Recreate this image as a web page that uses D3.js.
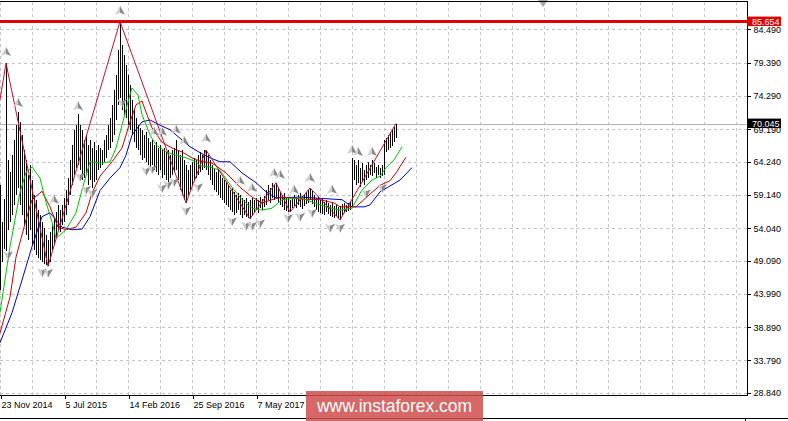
<html>
<head>
<meta charset="utf-8">
<script src="https://d3js.org/d3.v7.min.js"></script>
<style>
    body {
        margin: 0;
        background: #ffffff;
        font-family: "Liberation Sans", Arial, sans-serif;
    }
    .grid line {
        stroke: #c4c4c4;
        stroke-dasharray: 3,3;
        shape-rendering: crispEdges;
    }
    .axis text {
        font-size: 9px;
        fill: #000000;
        font-family: "Liberation Sans", Arial, sans-serif;
    }
    .axis line {
        stroke: #000000;
        shape-rendering: crispEdges;
    }
</style>
</head>
<body>
<svg id="chart" width="788" height="421"></svg>

<script>
    // weekly bars, first bar = week of 23 Nov 2014
    let barHigh = [
        60.6, 55.0, 58.5, 79.3, 64.5, 62.6, 65.2, 67.5, 69.8, 71.8,
        70.3, 68.3, 66.0, 64.5, 62.2, 63.7, 61.4, 59.1, 58.4, 56.8,
        56.1, 55.0, 54.1, 53.0, 52.2, 53.5, 54.5, 55.6, 56.5, 57.6,
        56.8, 57.6, 58.7, 59.9, 61.7, 64.5, 66.8, 69.1, 69.8, 71.5,
        69.8, 69.1, 67.5, 68.3, 66.8, 67.5, 66.3, 67.2, 66.0, 66.8,
        66.3, 66.0, 67.5, 68.3, 69.8, 70.9, 72.9, 75.2, 77.5, 81.3,
        85.65, 82.1, 80.5, 79.0, 77.5, 75.9, 73.7, 72.1, 70.9, 69.8,
        69.4, 69.1, 68.3, 68.8, 67.8, 67.2, 67.5, 66.8, 67.2, 66.3,
        66.8, 66.0, 66.3, 65.7, 66.0, 65.2, 66.0, 66.3, 67.5, 66.0,
        65.2, 66.0, 64.5, 63.7, 62.9, 63.7, 64.2, 64.8, 64.5, 65.2,
        65.7, 65.2, 66.0, 66.0, 65.2, 64.5, 63.7, 63.3, 62.6, 62.9,
        62.2, 61.7, 61.4, 61.1, 60.7, 59.9, 60.2, 59.6, 59.1, 59.4,
        59.1, 58.7, 58.4, 58.7, 58.0, 58.4, 58.7, 58.4, 58.7, 58.4,
        58.8, 58.5, 59.0, 59.9, 60.7, 60.2, 61.0, 60.7, 61.0, 60.2,
        59.6, 59.1, 59.4, 58.8, 58.7, 58.4, 58.7, 59.1, 58.8, 59.1,
        59.4, 58.9, 59.3, 59.6, 59.9, 60.2, 59.7, 59.1, 58.7, 58.8,
        58.4, 58.5, 58.0, 58.4, 57.9, 57.6, 57.9, 57.4, 57.6, 57.3,
        57.4, 57.7, 57.9, 57.6, 57.9, 58.0, 64.8, 64.5, 63.7, 64.5,
        63.3, 64.0, 62.9, 63.7, 64.2, 63.7, 64.5, 64.0, 63.4, 63.7,
        63.3, 63.7, 67.5, 67.8, 68.3, 68.8, 69.1, 69.5, 70.05]
    let barLow = [
        44.6, 48.9, 50.8, 50.5, 53.8, 55.0, 56.1, 57.6, 59.1, 60.2,
        57.6, 56.1, 54.5, 53.0, 52.2, 53.8, 51.5, 50.7, 49.9, 49.5,
        49.2, 48.9, 48.6, 48.4, 48.2, 48.9, 50.7, 51.5, 52.5, 53.8,
        53.5, 54.5, 55.0, 56.1, 57.6, 59.1, 60.7, 62.2, 63.3, 63.7,
        62.9, 61.4, 61.7, 62.2, 60.7, 61.4, 60.2, 61.1, 61.4, 62.9,
        63.3, 63.7, 64.2, 64.8, 66.0, 66.3, 67.2, 68.3, 70.6, 72.9,
        74.0, 72.1, 71.4, 70.9, 69.8, 69.1, 68.3, 67.2, 66.3, 66.0,
        65.2, 64.5, 64.8, 64.2, 63.7, 63.3, 63.7, 62.9, 62.6, 62.2,
        62.9, 61.7, 62.2, 61.4, 61.1, 61.7, 62.2, 62.6, 62.9, 61.4,
        59.9, 59.1, 58.4, 57.9, 59.1, 59.9, 60.7, 61.4, 61.7, 62.2,
        62.6, 62.9, 63.3, 62.9, 62.2, 61.4, 60.7, 59.9, 59.6, 59.1,
        58.7, 58.4, 57.9, 57.6, 57.3, 56.8, 56.5, 56.1, 56.4, 56.8,
        56.1, 55.6, 56.1, 55.8, 55.6, 55.5, 55.9, 56.5, 56.8, 56.4,
        57.1, 56.8, 57.3, 57.6, 58.4, 57.9, 58.7, 58.4, 58.8, 57.9,
        57.6, 57.3, 56.8, 56.7, 56.5, 56.5, 57.1, 57.4, 57.1, 57.6,
        57.3, 57.0, 57.4, 57.7, 57.9, 58.4, 57.7, 57.3, 56.8, 56.5,
        56.4, 56.2, 56.1, 56.5, 56.2, 55.9, 55.8, 55.6, 55.9, 55.6,
        55.3, 56.1, 56.4, 56.5, 56.7, 56.8, 57.3, 61.4, 60.7, 61.0,
        60.4, 61.1, 60.7, 61.4, 61.7, 62.2, 62.0, 62.5, 61.7, 62.2,
        61.7, 62.0, 62.2, 65.7, 66.0, 66.3, 66.6, 67.2, 67.8]

    // alligator lines (bar index, value); lines run past the last bar
    let lipsIdx = [0, 5, 10, 13, 16, 20, 23, 26, 28, 33, 38, 41, 45, 50, 55, 58, 61, 64, 66, 69,
        71, 75, 78, 83, 88, 93, 98, 100, 105, 110, 116, 121, 126, 131, 136, 141, 150, 163, 170, 176,
        181, 186, 190, 193, 197, 201]
    let lipsVal = [41.1, 51.2, 59.5, 62.6, 63.4, 61.7, 58.0, 55.0, 52.5, 53.8, 56.4, 59.9, 64.2, 64.0, 64.2, 66.3, 69.8, 73.4, 75.5, 74.4,
        71.4, 68.3, 66.8, 65.7, 65.2, 64.8, 64.2, 63.6, 63.4, 62.9, 60.3, 58.4, 57.1, 56.8, 57.1, 58.4, 58.7, 57.3, 56.8, 57.1,
        59.9, 61.4, 62.0, 63.3, 64.5, 66.5]
    let teethIdx = [0, 5, 8, 13, 16, 21, 25, 29, 33, 38, 43, 46, 50, 56, 61, 65, 68, 71, 73, 76,
        81, 86, 91, 96, 100, 106, 113, 120, 126, 131, 136, 141, 150, 160, 167, 170, 178, 183, 190, 195,
        198, 203]
    let teethVal = [38.0, 43.5, 49.6, 55.3, 58.4, 59.7, 57.3, 54.2, 53.8, 54.2, 56.4, 59.4, 62.0, 64.2, 66.3, 70.3, 72.9, 73.5, 71.8, 69.4,
        67.2, 66.3, 65.7, 64.8, 64.3, 64.0, 62.5, 60.3, 58.8, 57.9, 58.4, 58.8, 58.5, 58.4, 57.9, 57.3, 57.3, 58.7, 60.6, 61.3,
        62.5, 64.9]
    let jawIdx = [0, 6, 11, 16, 21, 25, 31, 36, 41, 45, 50, 55, 60, 63, 66, 71, 75, 80, 85, 90,
        95, 100, 105, 110, 115, 121, 128, 133, 138, 143, 150, 160, 171, 176, 182, 185, 190, 195, 200, 206]
    let jawVal = [36.5, 41.1, 46.1, 51.2, 55.8, 56.4, 54.2, 53.8, 53.9, 55.8, 59.8, 61.7, 63.3, 65.2, 68.3, 70.3, 70.6, 69.8, 69.1, 67.8,
        66.5, 65.6, 64.8, 64.2, 64.2, 62.5, 61.0, 59.6, 58.7, 58.7, 58.8, 58.6, 58.4, 57.3, 57.3, 57.6, 59.6, 60.5, 61.4, 63.3]

    // zigzag pivots
    let zigIdx = [0, 3, 24, 60, 93, 103, 125, 138, 145, 155, 170, 198]
    let zigVal = [73.7, 79.3, 48.2, 85.65, 57.9, 66.0, 55.5, 61.0, 56.5, 60.2, 55.3, 70.05]

    // fractals [bar index, value]
    let fractalUp = [[3, 81.0], [9, 73.2], [27, 58.4], [39, 72.7], [60, 87.3], [77, 68.8], [81, 68.8], [88, 69.1],
        [92, 67.4], [103, 67.8], [120, 61.3], [126, 60.2], [137, 62.5], [140, 62.2], [147, 59.9], [155, 61.7],
        [166, 59.9], [176, 66.0], [179, 65.7], [186, 65.7]]
    let fractalDown = [[4, 49.9], [21, 47.3], [24, 47.2], [40, 61.9], [43, 59.9], [46, 59.4], [61, 73.2], [73, 62.8],
        [76, 63.1], [81, 60.2], [84, 60.7], [87, 61.1], [93, 56.7], [99, 60.3], [116, 55.1], [123, 54.4],
        [126, 54.4], [130, 54.8], [144, 55.6], [150, 55.8], [156, 56.4], [165, 54.1], [170, 54.1], [183, 59.4], [191, 60.2]]

    let resistanceLevel = 85.654
    let bidLevel = 70.045
    let chartShiftBar = 271.5

    let yTicks = [84.49, 79.39, 74.29, 69.19, 64.24, 59.14, 54.04, 49.09, 43.99, 38.89, 33.79, 28.84]
    let xTickIdx = [0, 32, 64, 96, 128]
    let xTickLabels = ["23 Nov 2014", "5 Jul 2015", "14 Feb 2016", "25 Sep 2016", "7 May 2017"]

    let plot = {left: 0, top: 2, right: 747, bottom: 395}

    let svg = d3.select("#chart")

    let x = d3.scaleLinear()
        .domain([0, 373.5])
        .range([plot.left, plot.right])
    let y = d3.scaleLinear()
        .domain([28.51, 88.65])
        .range([plot.bottom, plot.top])

    svg.append("rect")
        .attr("width", 788).attr("height", 421)
        .attr("fill", "#ffffff")

    svg.append("clipPath").attr("id", "plotClip")
        .append("rect")
        .attr("x", plot.left).attr("y", plot.top)
        .attr("width", plot.right - plot.left).attr("height", plot.bottom - plot.top)

    //grid
    let grid = svg.append("g").attr("class", "grid")
    grid.selectAll("line.h")
        .data(yTicks)
        .join("line")
        .attr("class", "h")
        .attr("x1", plot.left).attr("x2", plot.right)
        .attr("y1", d => Math.round(y(d)) + 0.5)
        .attr("y2", d => Math.round(y(d)) + 0.5)
    grid.selectAll("line.v")
        .data(d3.range(0, 374, 16))
        .join("line")
        .attr("class", "v")
        .attr("x1", d => Math.round(x(d)) + 0.5)
        .attr("x2", d => Math.round(x(d)) + 0.5)
        .attr("y1", plot.top).attr("y2", plot.bottom)

    let body = svg.append("g").attr("clip-path", "url(#plotClip)")

    // bid line and resistance line
    body.append("line")
        .attr("x1", plot.left).attr("x2", plot.right)
        .attr("y1", Math.round(y(bidLevel)) + 0.5).attr("y2", Math.round(y(bidLevel)) + 0.5)
        .attr("stroke", "#b4b4b4")
    body.append("line")
        .attr("x1", plot.left).attr("x2", plot.right)
        .attr("y1", y(resistanceLevel)).attr("y2", y(resistanceLevel))
        .attr("stroke", "#e00000")
        .attr("stroke-width", 3)

    //bars
    body.append("g")
        .selectAll("line")
        .data(barHigh)
        .join("line")
        .attr("x1", (d, i) => Math.round(x(i)) + 0.5)
        .attr("x2", (d, i) => Math.round(x(i)) + 0.5)
        .attr("y1", d => y(d))
        .attr("y2", (d, i) => y(barLow[i]))
        .attr("stroke", "#000000")
        .attr("stroke-width", 1)
        .attr("shape-rendering", "crispEdges")

    //alligator + zigzag
    let line = d3.line()
        .x(d => x(d[0]))
        .y(d => y(d[1]))

    let series = [
        {idx: jawIdx, val: jawVal, color: "#0000c8"},
        {idx: teethIdx, val: teethVal, color: "#d00000"},
        {idx: lipsIdx, val: lipsVal, color: "#00c800"},
        {idx: zigIdx, val: zigVal, color: "#c8102e"}
    ]
    body.selectAll("path.series")
        .data(series)
        .join("path")
        .attr("class", "series")
        .attr("d", s => line(d3.zip(s.idx, s.val)))
        .attr("fill", "none")
        .attr("stroke", s => s.color)
        .attr("stroke-width", 1)

    //fractal arrows
    function drawFractals(data, dir) {
        let g = body.append("g")
            .selectAll("g")
            .data(data)
            .join("g")
            .attr("transform", d => `translate(${x(d[0])},${y(d[1])}) scale(1,${dir})`)
        g.append("path")
            .attr("d", "M0,-5 L-5,4 L0,2 Z")
            .attr("fill", "#cfcfcf")
        g.append("path")
            .attr("d", "M0,-5 L5,4 L0,2 Z")
            .attr("fill", "#8a8a8a")
    }
    drawFractals(fractalUp, 1)
    drawFractals(fractalDown, -1)

    // chart shift marker
    svg.append("path")
        .attr("d", `M${x(chartShiftBar) - 5},0 L${x(chartShiftBar) + 5},0 L${x(chartShiftBar)},7 Z`)
        .attr("fill", "#a8a8a8")

    //frame
    let frame = svg.append("g")
        .attr("stroke", "#000000")
        .attr("shape-rendering", "crispEdges")
    frame.append("line").attr("x1", 0).attr("x2", plot.right + 0.5).attr("y1", 1.5).attr("y2", 1.5)
    frame.append("line").attr("x1", plot.right + 0.5).attr("x2", plot.right + 0.5).attr("y1", 1).attr("y2", plot.bottom + 0.5)
    frame.append("line").attr("x1", 0).attr("x2", plot.right + 0.5).attr("y1", plot.bottom + 0.5).attr("y2", plot.bottom + 0.5)
    frame.append("line").attr("x1", 0).attr("x2", 788).attr("y1", 418.5).attr("y2", 418.5)
    frame.append("line").attr("x1", 745.5).attr("x2", 745.5).attr("y1", 418).attr("y2", 421)

    //axes
    let yAxis = svg.append("g")
        .attr("class", "axis")
        .attr("transform", `translate(${plot.right + 0.5},0)`)
        .call(d3.axisRight(y)
            .tickValues(yTicks)
            .tickSize(3)
            .tickPadding(3)
            .tickFormat(d3.format(".3f")))
    yAxis.select(".domain").remove()

    let xAxis = svg.append("g")
        .attr("class", "axis")
        .attr("transform", `translate(0,${plot.bottom + 0.5})`)
        .call(d3.axisBottom(x)
            .tickValues(xTickIdx)
            .tickSize(3)
            .tickPadding(3)
            .tickFormat((d, i) => xTickLabels[i]))
    xAxis.select(".domain").remove()
    xAxis.selectAll(".tick line").attr("transform", "translate(0.5,0)")
    xAxis.selectAll(".tick text")
        .attr("text-anchor", "start")
        .attr("x", 1)

    // price tags
    function priceTag(value, fill) {
        let g = svg.append("g")
            .attr("transform", `translate(${plot.right},${y(value)})`)
        g.append("rect")
            .attr("x", 0).attr("y", -5)
            .attr("width", 34).attr("height", 9.5)
            .attr("fill", fill)
        g.append("text")
            .attr("x", 5).attr("dy", "0.33em")
            .attr("fill", "#ffffff")
            .attr("font-size", "9px")
            .text(d3.format(".3f")(value))
    }
    priceTag(resistanceLevel, "#e00000")
    priceTag(bidLevel, "#000000")

    //watermark
    svg.append("rect")
        .attr("x", 306).attr("y", 391)
        .attr("width", 177).attr("height", 30)
        .attr("fill", "rgb(208,78,78)")
        .attr("opacity", 0.85)
    svg.append("text")
        .attr("x", 394.5).attr("y", 411.5)
        .attr("text-anchor", "middle")
        .attr("fill", "#ffffff")
        .attr("font-size", "18px")
        .attr("textLength", 155)
        .attr("lengthAdjust", "spacingAndGlyphs")
        .text("www.instaforex.com")
</script>
</body>
</html>
